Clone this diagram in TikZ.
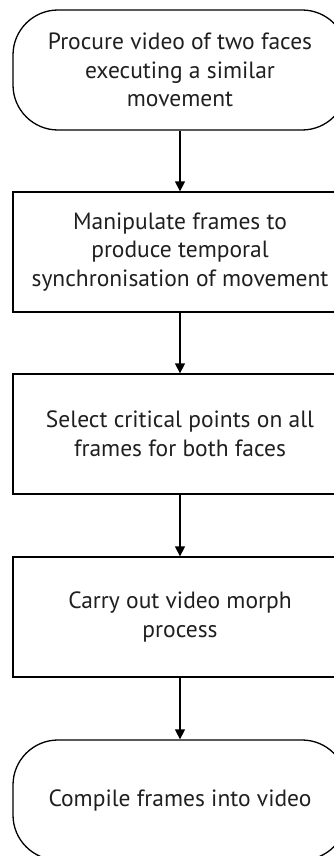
\documentclass[tikz,border=0pt]{standalone}
\usepackage{fontspec}
\setmainfont{PT Sans}
\usetikzlibrary{arrows.meta}
\begin{document}
\begin{tikzpicture}[x=1pt,y=-1pt,
  every node/.style={font=\fontsize{23.5}{28.5}\selectfont, align=center, text=black!88},
  term/.style={draw, line width=1.3pt, rounded corners=45pt, minimum width=334pt, minimum height=120pt, inner sep=0pt},
  proc/.style={draw, line width=1.3pt, minimum width=334pt, minimum height=120pt, inner sep=0pt},
  flow/.style={line width=1.3pt, -{Triangle[length=10pt,width=10pt]}}]
\useasboundingbox (0,0) rectangle (334,856);
\clip (0,0) rectangle (334,856);
\node[term] (a) at (180,70) {Procure video of two faces\\executing a similar\\movement};
\node[proc] (b) at (180,252) {Manipulate frames to\\produce temporal\\synchronisation of movement};
\node[proc] (c) at (180,434) {Select critical points on all\\frames for both faces};
\node[proc] (d) at (180,617) {Carry out video morph\\process};
\node[term] (e) at (180,800) {Compile frames into video};
\draw[flow] (a) -- (b);
\draw[flow] (b) -- (c);
\draw[flow] (c) -- (d);
\draw[flow] (d) -- (e);
\end{tikzpicture}
\end{document}
